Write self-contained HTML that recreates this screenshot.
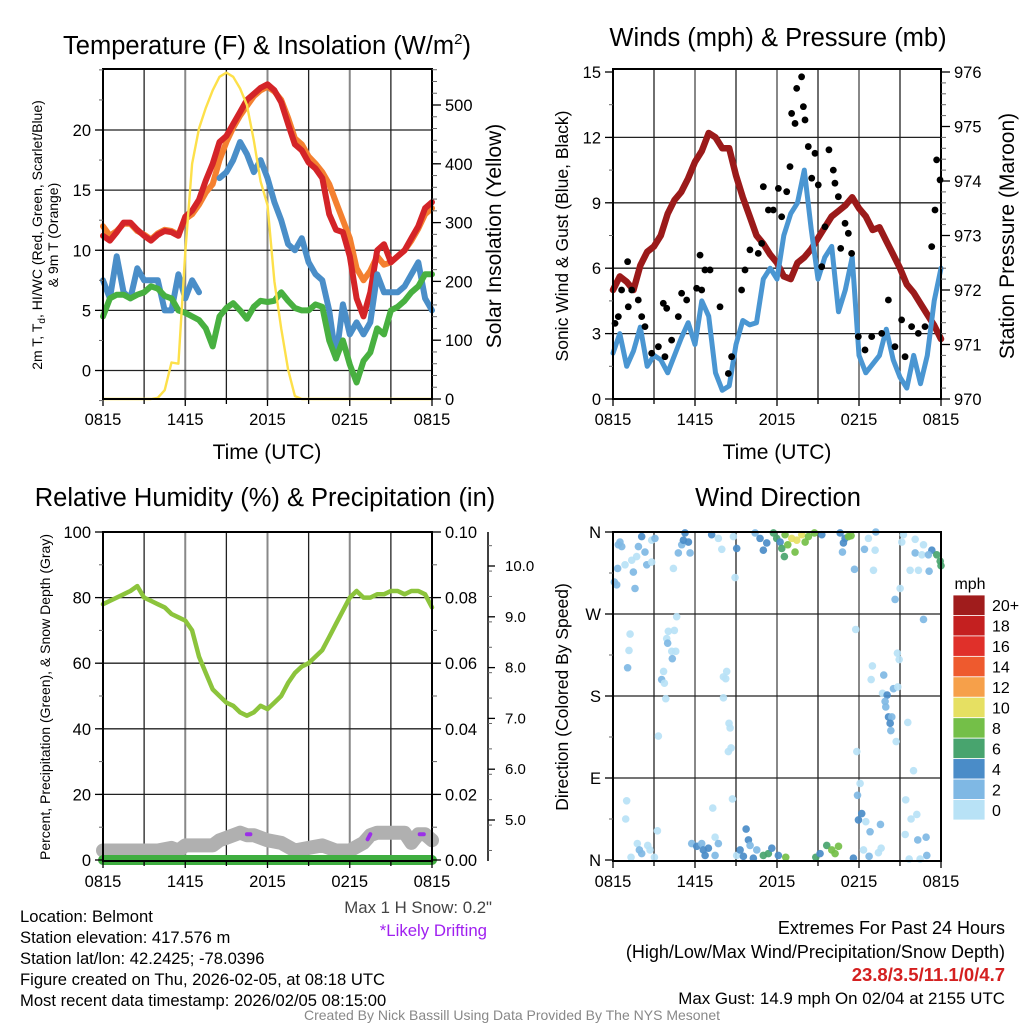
<!DOCTYPE html>
<html><head><meta charset="utf-8">
<style>
html,body{margin:0;padding:0;background:#fff;}
body{width:1024px;height:1024px;overflow:hidden;font-family:"Liberation Sans",Arial,sans-serif;}
svg text{font-family:"Liberation Sans",Arial,sans-serif;}
</style></head>
<body>
<svg id="chart" width="1024" height="1024" viewBox="0 0 1024 1024" xmlns="http://www.w3.org/2000/svg">
<g id="static">
<text x="267" y="54" font-size="25.5" text-anchor="middle">Temperature (F) &amp; Insolation (W/m<tspan font-size="15" dy="-10">2</tspan><tspan dy="10">)</tspan></text>
<text x="778" y="46" font-size="25.5" text-anchor="middle">Winds (mph) &amp; Pressure (mb)</text>
<text x="265" y="506" font-size="25.5" text-anchor="middle">Relative Humidity (%) &amp; Precipitation (in)</text>
<text x="778" y="506" font-size="25.5" text-anchor="middle">Wind Direction</text>

<text x="267" y="459" font-size="21" text-anchor="middle">Time (UTC)</text>
<text x="777" y="459" font-size="21" text-anchor="middle">Time (UTC)</text>

<g transform="translate(42,235) rotate(-90)" font-size="14" text-anchor="middle">
<text x="0" y="0">2m T, T<tspan font-size="10" dy="3">d</tspan><tspan dy="-3">, HI/WC (Red, Green, Scarlet/Blue)</tspan></text>
<text x="0" y="16">&amp; 9m T (Orange)</text>
</g>
<text transform="translate(501,236) rotate(-90)" font-size="21" text-anchor="middle">Solar Insolation (Yellow)</text>
<text transform="translate(568,236) rotate(-90)" font-size="17.5" text-anchor="middle">Sonic Wind &amp; Gust (Blue, Black)</text>
<text transform="translate(1014,236) rotate(-90)" font-size="21" text-anchor="middle">Station Pressure (Maroon)</text>
<text transform="translate(50,697) rotate(-90)" font-size="14" text-anchor="middle">Percent, Precipitation (Green), &amp; Snow Depth (Gray)</text>
<text transform="translate(568,697) rotate(-90)" font-size="17.5" text-anchor="middle">Direction (Colored By Speed)</text>

<text x="492" y="913" font-size="16.8" fill="#444" text-anchor="end">Max 1 H Snow: 0.2"</text>
<text x="487" y="936" font-size="16.8" fill="#a020f0" text-anchor="end">*Likely Drifting</text>

<g font-size="16.6">
<text x="20" y="922">Location: Belmont</text>
<text x="20" y="943">Station elevation: 417.576 m</text>
<text x="20" y="964">Station lat/lon: 42.2425; -78.0396</text>
<text x="20" y="985">Figure created on Thu, 2026-02-05, at 08:18 UTC</text>
<text x="20" y="1006">Most recent data timestamp: 2026/02/05 08:15:00</text>
</g>
<g font-size="18" text-anchor="end">
<text x="1005" y="934">Extremes For Past 24 Hours</text>
<text x="1005" y="958">(High/Low/Max Wind/Precipitation/Snow Depth)</text>
<text x="1005" y="981" fill="#d42020" font-weight="bold" font-size="18.5">23.8/3.5/11.1/0/4.7</text>
<text x="1005" y="1004" font-size="16.9">Max Gust: 14.9 mph On 02/04 at 2155 UTC</text>
</g>
<text x="512" y="1020" font-size="14" fill="#888" text-anchor="middle">Created By Nick Bassill Using Data Provided By The NYS Mesonet</text>
</g>
</svg>
<script>
// ---- time axis (hours since 0815 UTC), half-hourly samples ----
const halfHours = Array.from({length:49},(_, i)=>i*0.5);
const timeTickLabels = ["0815","1415","2015","0215","0815"];
const timeTickHours = [0,6,12,18,24];

// Temperature panel
const tempAir = [11.2,10.8,11.5,12.3,12.3,11.7,11.2,10.8,11.3,11.6,11.5,11.2,12.8,13.3,14.2,15.8,17.2,19.0,19.5,20.5,21.5,22.5,23.0,23.5,23.8,23.3,22.3,20.5,18.8,18.3,17.3,16.8,16.0,13.0,11.7,11.5,9.5,6.0,4.5,6.5,10.0,10.5,9.0,9.5,10.0,11.0,12.0,13.5,14.0];
const temp9m = [12.0,11.2,11.6,12.2,12.2,11.6,11.3,10.9,11.4,11.7,11.6,11.3,12.6,13.0,13.8,14.8,15.5,17.5,19.0,20.2,21.2,22.0,22.8,23.3,23.6,23.2,22.5,21.0,19.3,18.8,17.8,17.2,16.5,15.5,14.0,12.5,11.0,8.5,7.5,8.3,9.5,8.8,9.0,9.5,10.0,10.8,11.8,13.0,13.5];
const windChill = [7.5,6.0,9.5,6.5,6.0,8.5,7.5,7.5,7.5,5.0,5.0,8.0,6.0,7.5,6.5,null,null,16.0,16.5,17.5,19.0,18.0,16.5,17.5,16.0,14.0,12.5,10.5,10.0,11.0,9.0,8.0,7.5,5.0,1.0,5.5,3.0,4.0,3.0,4.0,8.0,6.5,6.5,6.5,7.0,8.0,9.0,6.0,5.0];
const dewPoint = [4.5,6.0,6.3,6.3,6.0,6.3,6.5,7.0,6.8,6.2,6.0,5.0,4.8,4.5,4.2,3.5,2.0,4.5,5.2,5.6,5.0,4.3,5.3,5.8,5.7,5.8,6.5,5.8,5.2,5.0,5.0,5.5,5.3,2.5,1.0,2.5,0.5,-1.0,0.8,1.5,3.5,3.0,5.0,5.3,5.8,6.5,7.0,8.0,8.0];
const insolation = [0,0,0,0,0,0,0,0,2,15,62,60,250,400,460,495,525,548,555,548,528,500,440,370,330,200,120,50,5,0,0,0,0,0,0,0,0,0,0,0,0,0,0,0,0,0,0,0,0];
const tempTicks = [0,5,10,15,20];
const insolTicks = [0,100,200,300,400,500];

// Wind panel
const windSpeed = [2.1,3.0,1.5,2.2,3.3,1.5,2.0,1.8,1.2,2.0,2.8,3.5,2.5,4.5,3.8,1.2,0.4,0.6,2.5,3.6,3.4,3.5,5.5,6.0,5.5,7.5,8.5,9.0,10.5,7.8,5.5,6.5,7.0,4.0,5.0,6.5,2.0,1.2,1.6,2.0,3.2,1.8,1.0,0.5,2.0,0.7,2.0,4.5,6.0];
const pressure = [972.0,972.25,972.15,972.0,972.45,972.7,972.8,973.0,973.4,973.65,973.8,974.05,974.35,974.55,974.88,974.8,974.6,974.6,974.1,973.7,973.35,973.0,972.85,972.65,972.5,972.25,972.2,972.5,972.6,972.75,972.95,973.15,973.35,973.45,973.55,973.7,973.5,973.35,973.1,973.15,972.9,972.65,972.4,972.1,971.95,971.75,971.55,971.35,971.1];
const gustHours = [0.15,0.39,0.63,1.07,1.12,1.37,1.85,2.1,2.34,2.83,3.32,3.68,3.93,3.8,4.29,4.78,5.02,5.39,6.12,6.37,6.49,6.73,7.1,7.83,8.44,8.68,9.41,9.66,10.02,10.63,10.88,11.0,11.37,11.73,12.1,12.34,12.71,12.95,13.07,13.32,13.44,13.8,13.93,14.05,14.29,14.54,14.78,15.02,15.27,15.51,15.8,16.12,16.24,16.49,16.66,16.98,17.22,17.46,17.95,18.44,18.93,19.66,20.15,20.63,21.12,21.37,21.85,22.34,22.83,23.32,23.56,23.68,23.93];
const gustValues = [3.47,3.78,5.0,6.3,4.23,5.0,4.54,3.78,3.32,2.1,2.4,4.39,4.16,1.94,2.7,3.78,4.85,4.54,5.08,6.6,5.0,5.92,5.92,4.23,1.17,1.94,5.0,5.92,6.84,6.68,7.14,9.74,8.67,8.67,9.66,8.36,9.51,10.66,13.1,12.64,14.25,14.78,13.41,12.8,11.58,10.13,11.27,9.82,6.07,7.9,11.43,10.5,9.9,9.28,6.91,8.06,7.6,6.68,2.86,2.25,2.86,3.01,4.54,2.4,3.63,1.94,3.32,3.01,3.32,6.99,8.67,10.97,10.05];
const windTicks = [0,3,6,9,12,15];
const pressTicks = [970,971,972,973,974,975,976];

// RH panel
const relHumidity = [78,79,80,81,82,83.5,80,79,78,77,75,74,73,70,62,57,52,50,48,47,45,44,45,47,46,48,50,54,57,59,60,62,64,68,72,76,80,82,80,80,81,81,82,82,81,82,82,81,77];
const precipitation = [0,0,0,0,0,0,0,0,0,0,0,0,0,0,0,0,0,0,0,0,0,0,0,0,0,0,0,0,0,0,0,0,0,0,0,0,0,0,0,0,0,0,0,0,0,0,0,0,0];
const snowDepthHours = [0,2,4,5,5.5,6,7,8,8.5,9,10,10.5,11,12,13,14,15,16,17,18,19,19.5,20,21,22,22.5,23,23.5,24];
const snowDepth = [4.4,4.4,4.4,4.45,4.4,4.5,4.5,4.5,4.6,4.65,4.75,4.7,4.7,4.6,4.55,4.4,4.45,4.5,4.4,4.4,4.55,4.7,4.75,4.75,4.75,4.55,4.72,4.72,4.6];
const driftHours = [[10.5,10.75],[19.3,19.5],[23.1,23.4]];
const driftDepth = [[4.72,4.72],[4.62,4.72],[4.72,4.72]];
const rhTicks = [0,20,40,60,80,100];
const precipTickLabels = ["0.00","0.02","0.04","0.06","0.08","0.10"];
const snowTicks = [5,6,7,8,9,10];

// Direction panel (hour, degrees, speed mph)
const dirHours = [0.51,0.39,0.64,0.34,0.10,0.27,1.61,1.49,0.88,1.37,1.73,1.86,2.10,2.34,2.47,2.83,2.83,3.07,4.42,4.78,5.03,5.15,5.27,5.52,5.64,7.22,7.71,7.96,8.81,9.05,8.93,10.4,10.76,11.0,11.25,11.74,11.98,12.23,12.35,12.59,12.54,12.79,13.08,13.45,13.81,14.06,14.3,14.74,15.28,13.32,16.62,16.86,16.79,16.98,17.23,17.42,17.67,18.4,18.69,19.18,19.06,19.23,21.01,20.64,21.25,21.13,22.11,21.74,22.35,22.11,22.6,22.72,23.13,23.33,23.69,23.94,24.0,23.08,22.72,
1.25,1.17,1.07,4.66,4.05,4.49,3.93,4.0,4.3,4.59,4.34,3.7,3.56,3.76,3.86,3.32,8.32,8.08,8.25,8.08,8.49,8.57,8.64,8.44,17.76,20.81,20.94,18.98,18.89,19.81,20.52,20.84,19.72,20.06,19.91,19.96,20.16,20.4,20.28,20.33,20.72,21.57,17.84,21.99,
1.0,0.93,3.25,1.78,1.93,2.1,2.54,2.71,1.32,3.03,5.76,6.13,6.49,6.61,6.74,6.98,7.47,7.71,7.47,7.3,8.74,9.05,9.3,9.54,9.74,9.91,10.03,10.52,10.27,11.0,11.37,11.62,12.1,12.64,14.84,15.15,15.64,16.01,16.25,16.5,17.59,18.08,17.89,18.2,17.96,18.5,18.81,19.57,18.33,18.74,19.42,19.62,21.42,21.81,22.23,21.38,22.3,22.91,22.96,21.67,22.47];
const dirDegrees = [349,346,344,320,305,302,298,316,324,329,333,344,355,338,324,327,351,353,320,337,346,351,359,349,337,357,353,341,355,342,310,359,353,340,348,359,353,349,342,357,333,346,353,351,357,349,355,359,357,338,359,348,338,353,355,356,319,341,353,340,318,360,298,286,357,349,352,318,318,337,335,346,317,340,335,328,323,335,264,
248,230,211,267,251,252,243,238,229,229,221,207,198,194,177,136,207,201,199,178,150,145,123,119,253,227,220,213,198,203,188,190,183,181,174,168,157,157,150,142,130,151,119,98,
65,45,32,18,11,7,16,11,3,3,18,15,18,11,5,13,25,18,5,57,67,5,11,4,34,22,16,11,2,5,7,13,5,3,3,7,16,11,7,15,2,84,71,51,44,42,31,39,11,4,8,13,66,45,50,28,22,25,5,1,1];
const dirSpeeds = [3,3,3,3,3,3,3,3,1,1,1,3,5,3,3,1,1,3,1,3,3,5,5,5,3,5,1,1,1,5,1,3,5,5,5,7,7,5,7,9,7,9,11,11,11,9,9,9,5,9,5,5,3,5,9,9,3,3,1,1,1,3,1,3,1,1,1,1,1,3,1,1,3,5,7,7,7,3,3,
1,1,3,1,1,1,1,3,1,1,3,1,3,1,1,1,1,1,1,1,1,1,1,1,1,1,1,1,1,3,3,1,1,5,3,3,5,3,5,3,1,1,1,1,
1,1,1,1,3,3,1,1,1,1,3,5,3,5,5,5,1,3,3,1,1,1,5,5,5,5,3,3,5,7,7,5,5,9,7,5,7,9,9,9,5,1,3,5,5,1,3,3,1,3,1,1,1,1,1,1,3,3,3,1,1];
const dirTickLabels = ["N","E","S","W","N"];
const speedBinLabels = ["20+","18","16","14","12","10","8","6","4","2","0"];
const speedBinColors = ["#a01c1c","#c42020","#e0302a","#ee5a2e","#f6a04a","#e6e062","#74bf48","#48a46e","#4a8cc8","#7fb8e4","#b8e2f6"];

// ---------- drawing ----------
const NS="http://www.w3.org/2000/svg";
const svg=document.getElementById('chart');
const TICK_FS=16.5;
function el(tag,attrs,parent){const e=document.createElementNS(NS,tag);for(const k in attrs)e.setAttribute(k,attrs[k]);(parent||svg).appendChild(e);return e;}
function linear(d0,d1,r0,r1){return v=>r0+(v-d0)*(r1-r0)/(d1-d0);}
function pathFrom(xs,ys,sx,sy){let d="",pen=false;for(let i=0;i<xs.length;i++){if(ys[i]===null||ys[i]===undefined){pen=false;continue;}d+=(pen?"L":"M")+sx(xs[i]).toFixed(1)+","+sy(ys[i]).toFixed(1);pen=true;}return d;}

function frame(P,name){
  const g=el('g',{});
  
  
  for(let h=3;h<24;h+=3){
    const x=P.sx(h);
    const ln=el('line',{x1:x,x2:x,y1:P.top,y2:P.bot,stroke:(h%6===0)?'#888':'#222','stroke-width':(h%6===0)?2:1.3},g);
    
    
  }
  return g;
}
function hgrid(P,ys,g){ys.forEach(y=>{const ln=el('line',{x1:P.left,x2:P.right,y1:y,y2:y,stroke:'#222','stroke-width':1.3},g);});}
function border(P,name){const r=el('rect',{x:P.left,y:P.top,width:P.right-P.left,height:P.bot-P.top,fill:'none',stroke:'#000','stroke-width':2});}
function timeAxis(P,name){
  const g=el('g',{});
  
  
  for(let h=0;h<=24;h+=3){const x=P.sx(h);el('line',{x1:x,x2:x,y1:P.bot,y2:P.bot+(h%6===0?7:5),stroke:'#000','stroke-width':1.3},g);}
  timeTickHours.forEach((h,i)=>{const t=el('text',{x:P.sx(h),y:P.bot+26,'font-size':TICK_FS,'text-anchor':'middle'},g);t.textContent=timeTickLabels[i];});
}
function leftTicks(P,vals,sy,labels,g,minorStep,minorRange){
  if(minorStep){for(let v=minorRange[0];v<=minorRange[1]+1e-9;v+=minorStep){const y=sy(v);el('line',{x1:P.left-4,x2:P.left,y1:y,y2:y,stroke:'#666','stroke-width':1},g);}}
  vals.forEach((v,i)=>{const y=sy(v);el('line',{x1:P.left-8,x2:P.left,y1:y,y2:y,stroke:'#000','stroke-width':1.3},g);const t=el('text',{x:P.left-12,y:y+6,'font-size':TICK_FS,'text-anchor':'end'},g);t.textContent=labels[i];});
}
function rightTicks(P,vals,sy,labels,g,minorStep,minorRange){
  if(minorStep){for(let v=minorRange[0];v<=minorRange[1]+1e-9;v+=minorStep){const y=sy(v);el('line',{x1:P.right,x2:P.right+5,y1:y,y2:y,stroke:'#666','stroke-width':1},g);}}
  vals.forEach((v,i)=>{const y=sy(v);el('line',{x1:P.right,x2:P.right+9,y1:y,y2:y,stroke:'#000','stroke-width':1.3},g);const t=el('text',{x:P.right+13,y:y+6,'font-size':TICK_FS,'text-anchor':'start'},g);t.textContent=labels[i];});
}

// ===== Panel 1: temperature =====
const P1={left:103,right:432,top:69,bot:399};P1.sx=linear(0,24,P1.left,P1.right);
const tY=linear(0,20,370.5,130);const iY=linear(0,500,399,105);
const g1=frame(P1,'temp');hgrid(P1,tempTicks.map(tY),g1);
const s1=el('g',{});


[[temp9m,'#f48030','temp-9m-line'],[tempAir,'#d42428','temp-2m-line'],[windChill,'#4a8ec8','wind-chill-line'],[dewPoint,'#48b040','dewpoint-line']].forEach(([arr,c,n])=>{
  const p=el('path',{d:pathFrom(halfHours,arr,P1.sx,tY),fill:'none',stroke:c,'stroke-width':6,'stroke-linejoin':'round','stroke-linecap':'round'},s1);
  
  
});
const ins=el('path',{d:pathFrom(halfHours,insolation,P1.sx,iY),fill:'none',stroke:'#fde04a','stroke-width':2.4,'stroke-linejoin':'round'},s1);


border(P1,'temp');timeAxis(P1,'temp');
const a1=el('g',{});
leftTicks(P1,tempTicks,tY,tempTicks.map(String),a1,2.5,[-2.5,25]);
const a1r=el('g',{});
rightTicks(P1,insolTicks,iY,insolTicks.map(String),a1r,20,[0,560]);

// ===== Panel 2: winds =====
const P2={left:613,right:941,top:69,bot:399};P2.sx=linear(0,24,P2.left,P2.right);
const wY=linear(0,15,399,72);const pY=linear(970,976,399,72);
const g2=frame(P2,'wind');hgrid(P2,windTicks.slice(1,5).map(wY),g2);
const pl=el('path',{d:pathFrom(halfHours,pressure,P2.sx,pY),fill:'none',stroke:'#9b1a1a','stroke-width':6.5,'stroke-linejoin':'round','stroke-linecap':'round'});


const wl=el('path',{d:pathFrom(halfHours,windSpeed,P2.sx,wY),fill:'none',stroke:'#4a96d2','stroke-width':5,'stroke-linejoin':'round','stroke-linecap':'round'});


const gg=el('g',{});
gustHours.forEach((h,i)=>{const c=el('circle',{cx:P2.sx(h),cy:wY(gustValues[i]),r:3.4,fill:'#000'},gg);});
border(P2,'wind');timeAxis(P2,'wind');
const a2=el('g',{});
leftTicks(P2,windTicks,wY,windTicks.map(String),a2,1.5,[0,15]);
const a2r=el('g',{});
rightTicks(P2,pressTicks,pY,pressTicks.map(String),a2r,0.2,[970,976]);

// ===== Panel 3: RH =====
const P3={left:103,right:432,top:532,bot:861};P3.sx=linear(0,24,P3.left,P3.right);
const rY=linear(0,100,860,532);const prY=linear(0,0.1,860,532);const sdY=linear(5,10,820,566);
const g3=frame(P3,'rh');hgrid(P3,[20,40,60,80].map(rY),g3);
const sd=el('path',{d:pathFrom(snowDepthHours,snowDepth,P3.sx,sdY),fill:'none',stroke:'#b0b0b0','stroke-width':14,'stroke-linejoin':'round','stroke-linecap':'round'});


driftHours.forEach((hs,i)=>{const p=el('path',{d:pathFrom(hs,driftDepth[i],P3.sx,sdY),fill:'none',stroke:'#9b30e8','stroke-width':4,'stroke-linecap':'round'});});
const rl=el('path',{d:pathFrom(halfHours,relHumidity,P3.sx,rY),fill:'none',stroke:'#8cc43c','stroke-width':4.5,'stroke-linejoin':'round','stroke-linecap':'round'});


const pp=el('path',{d:pathFrom(halfHours,precipitation,P3.sx,prY),fill:'none',stroke:'#3fae40','stroke-width':10,'stroke-linecap':'round'});


border(P3,'rh');timeAxis(P3,'rh');
const a3=el('g',{});
leftTicks(P3,rhTicks,rY,rhTicks.map(String),a3,10,[0,100]);
const a3r=el('g',{});
rightTicks(P3,[0,0.02,0.04,0.06,0.08,0.1],prY,precipTickLabels,a3r,0.01,[0,0.1]);
const a3s=el('g',{});
el('line',{x1:488,x2:488,y1:532,y2:861,stroke:'#000','stroke-width':1.5},a3s);
for(let v=4.4;v<=10.5;v+=0.5){el('line',{x1:488,x2:492,y1:sdY(v),y2:sdY(v),stroke:'#666','stroke-width':1},a3s);}
snowTicks.forEach(v=>{const y=sdY(v);el('line',{x1:488,x2:495,y1:y,y2:y,stroke:'#000','stroke-width':1.3},a3s);const t=el('text',{x:505,y:y+5,'font-size':15,},a3s);t.textContent=v.toFixed(1);});

// ===== Panel 4: direction =====
const P4={left:613,right:941,top:532,bot:861};P4.sx=linear(0,24,P4.left,P4.right);
const dY=linear(0,360,860,532);
const g4=frame(P4,'direction');hgrid(P4,[90,180,270].map(dY),g4);
function speedColor(s){const idx=Math.min(10,Math.floor(s/2));return speedBinColors[10-idx];}
const dg=el('g',{});
dirHours.forEach((h,i)=>{const c=el('circle',{cx:P4.sx(h),cy:dY(dirDegrees[i]),r:3.8,fill:speedColor(dirSpeeds[i]),'fill-opacity':0.92},dg);});
border(P4,'direction');timeAxis(P4,'direction');
const a4=el('g',{});
leftTicks(P4,[0,90,180,270,360],dY,dirTickLabels,a4,45,[0,360]);
// colorbar
const cb=el('g',{});
const cbt=el('text',{x:970,y:589,'font-size':16,'text-anchor':'middle'},cb);cbt.textContent='mph';
const bh=225/speedBinColors.length;
speedBinColors.forEach((c,i)=>{const r=el('rect',{x:953,y:595+i*bh,width:32,height:bh,fill:c,stroke:'#fff','stroke-width':0.8},cb);
const t=el('text',{x:992,y:595+i*bh+bh/2+6,'font-size':16},cb);t.textContent=speedBinLabels[i];});
</script>
</body></html>
